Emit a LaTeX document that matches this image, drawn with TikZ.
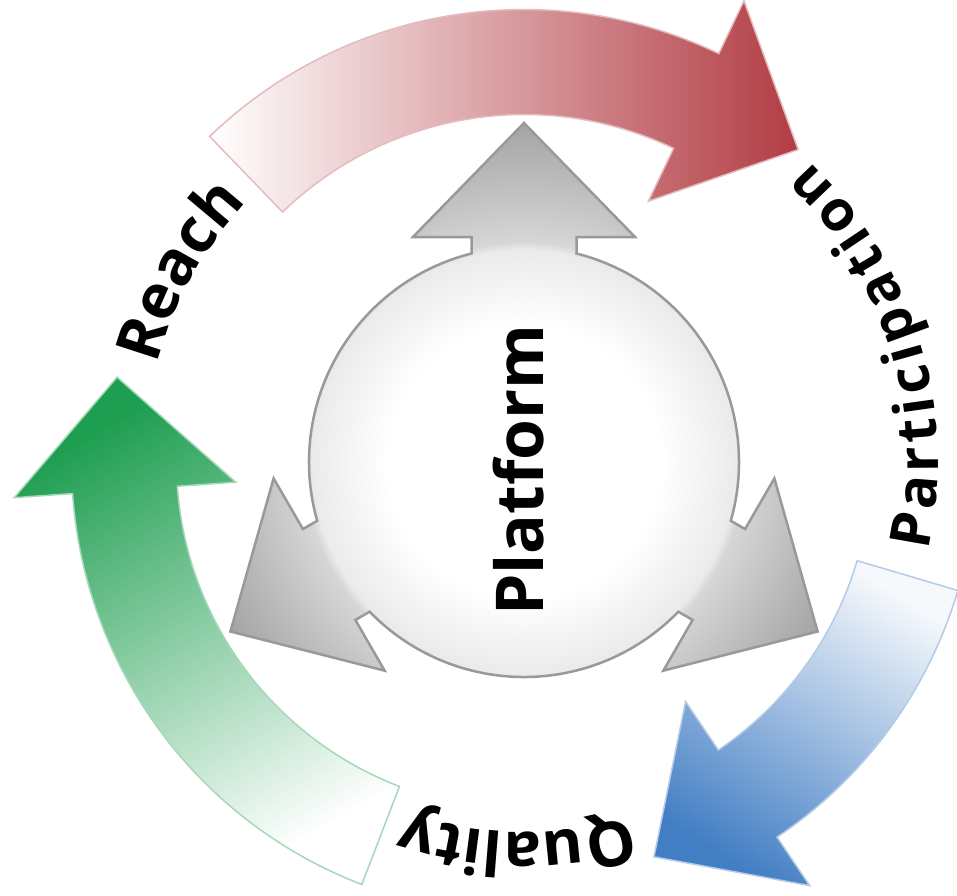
\documentclass[tikz,border=0pt]{standalone}
\usepackage{fontspec}
\setmainfont{Open Sans}
\usetikzlibrary{calc,decorations.text}

\definecolor{reachred}{RGB}{178,60,68}
\definecolor{qualgreen}{RGB}{30,158,80}
\definecolor{partblue}{RGB}{66,126,196}

\pgfdeclareradialshading{platformshade}{\pgfpoint{0bp}{0bp}}{color(0bp)=(white); color(10bp)=(white); color(15.6bp)=(black!8); color(16.2bp)=(black!16); color(25bp)=(black!36); color(50bp)=(black!36)}

\newcommand\cyclefont{\bfseries\fontsize{62}{70}\selectfont}
\newcommand\partfont{\bfseries\fontsize{56}{64}\selectfont}
\newcommand\lgap{{\kern5pt}}

\tikzset{
  platform/.style={draw=black!40, line width=2.5pt, line join=miter},
  cyclearrow/.style={line width=1.5pt, line join=miter},
  cyclelabel/.style={decorate, decoration={text along path, text align=center, text={|\cyclefont|#1}}}
}

\begin{document}
\begin{tikzpicture}[x=1pt,y=1pt]
        \useasboundingbox (-524,-433) rectangle (433,462);

        % Reach to Participation
        \shadedraw[cyclearrow, draw=reachred!35!white, left color=white, right color=reachred]
            (134:452.5) arc[start angle=134, end angle=64.5, radius=452.5]
            -- (64.5:511) -- ($(64.5:400)+(-25.5:113)$) -- (64.5:289) -- (64.5:347.5)
            arc[start angle=64.5, end angle=134, radius=347.5] -- cycle;

        % Participation to Quality
        \shadedraw[cyclearrow, draw=partblue!40!white, top color=partblue, bottom color=partblue!5!white, shading angle=148]
            (-16.5:452.5) arc[start angle=-16.5, end angle=-56, radius=452.5]
            -- (-56:511) -- ($(-56:400)+(-146:113)$) -- (-56:289) -- (-56:347.5)
            arc[start angle=-56, end angle=-16.5, radius=347.5] -- cycle;

        % Quality to Reach
        \shadedraw[cyclearrow, draw=qualgreen!40!white, top color=qualgreen, bottom color=white, shading angle=30]
            (249:452.5) arc[start angle=249, end angle=184, radius=452.5]
            -- (184:511) -- ($(184:400)+(94:113)$) -- (184:289) -- (184:347.5)
            arc[start angle=184, end angle=249, radius=347.5] -- cycle;

        % Platform with three arrows
        \draw[platform, path picture={\shade[shading=platformshade] (-340,-340) rectangle (340,340);}]
            ([rotate=90]208.5,-52.5)
            \foreach \ang in {90,210,330} {
                -- ([rotate=\ang]225,-52.5) -- ([rotate=\ang]225,-111) -- ([rotate=\ang]339,0)
                -- ([rotate=\ang]225,111) -- ([rotate=\ang]225,52.5) -- ([rotate=\ang]208.5,52.5)
                arc[start angle=\ang+14.13, end angle=\ang+105.87, radius=215]
            } -- cycle;
        \node[rotate=90, inner sep=0pt, font=\bfseries\fontsize{66}{74}\selectfont] (platform) at (-5,-8) {Platform};

        % Labels round the cycle
        \path[cyclelabel=Reach] (196:380) arc[start angle=196, end angle=106, radius=380];
        \path[cyclelabel=Quality] (314:370) arc[start angle=314, end angle=224, radius=370];
        \path[decorate, decoration={text along path, text align=center,
            text={|\partfont|P\lgap a\lgap r\lgap t\lgap i\lgap c\lgap i\lgap p\lgap a\lgap t\lgap i\lgap o\lgap n}}]
            (-40:414) arc[start angle=-40, end angle=74, radius=414];
    \end{tikzpicture}
\end{document}
